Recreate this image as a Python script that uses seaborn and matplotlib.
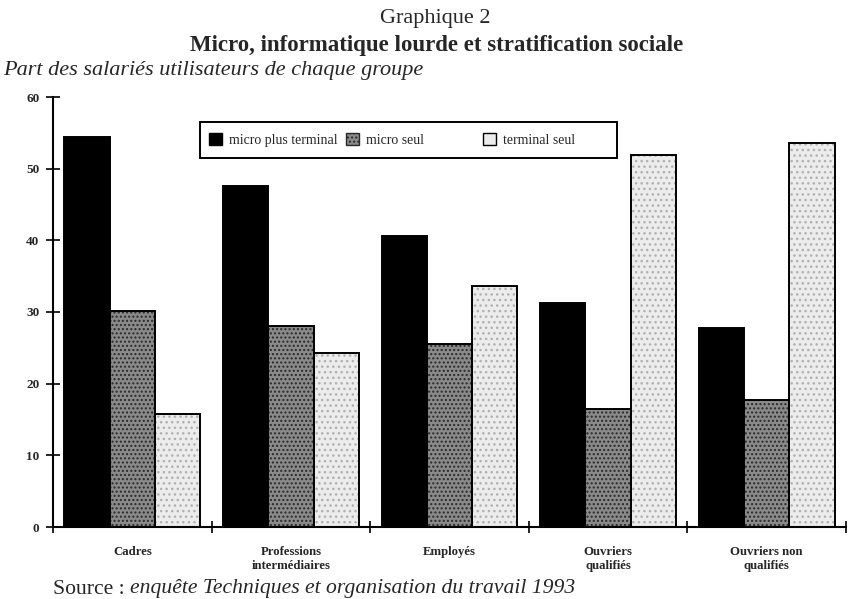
import matplotlib
matplotlib.use("Agg")
import matplotlib.pyplot as plt
import seaborn as sns
import pandas as pd
from matplotlib.patches import Rectangle, Patch

categories = ["Cadres", "Professions\nintermédiaires", "Employés", "Ouvriers\nqualifiés", "Ouvriers non\nqualifiés"]
series = ["micro plus terminal", "micro seul", "terminal seul"]
micro_plus_terminal = [54.4, 47.6, 40.6, 31.3, 27.8]
micro_seul = [30.1, 28.1, 25.6, 16.4, 17.7]
terminal_seul = [15.7, 24.3, 33.6, 51.9, 53.6]
y_ticks = [0, 10, 20, 30, 40, 50, 60]

rows = []
for s, vals in zip(series, [micro_plus_terminal, micro_seul, terminal_seul]):
    for c, v in zip(categories, vals):
        rows.append({"groupe": c, "type": s, "part": v})
df = pd.DataFrame(rows)

sns.set_style("white")
plt.rcParams["font.family"] = ["Liberation Serif", "DejaVu Serif"]
plt.rcParams["hatch.linewidth"] = 1.0

W, H = 848, 599
fig = plt.figure(figsize=(W/100, H/100), dpi=100)
ax_l, ax_r, ax_b, ax_t = 53, 846, 527, 97
ax = fig.add_axes([ax_l/W, 1-ax_b/H, (ax_r-ax_l)/W, (ax_b-ax_t)/H])

faces = {"micro plus terminal": "#000000", "micro seul": "#8a8a8a", "terminal seul": "#ececec"}
hatch_style = {"micro seul": ("....", "#2a2a2a"), "terminal seul": ("...", "#b0b0b0")}

sns.barplot(data=df, x="groupe", y="part", hue="type", hue_order=series,
            palette=faces, width=0.855, gap=0, ax=ax, legend=False,
            saturation=1, errorbar=None)

for container, s in zip(ax.containers, series):
    for bar in container:
        bar.set_linewidth(0)
        if s in hatch_style:
            h, hc = hatch_style[s]
            bar.set_hatch(h)
            bar.set_edgecolor(hc)
        outline = Rectangle(bar.get_xy(), bar.get_width(), bar.get_height(),
                            fill=False, edgecolor="black", linewidth=1.4, zorder=3)
        ax.add_patch(outline)

ax.set_xlim(-0.5, len(categories) - 0.5)
ax.set_ylim(0, 60)
ax.set_yticks(y_ticks)
ax.set_yticklabels([str(t) for t in y_ticks], fontsize=9.5, fontweight="bold")
ax.set_xticks(range(len(categories)))
ax.set_xticklabels(categories, fontsize=9.2, fontweight="bold", linespacing=1.15)
ax.set_xticks([i - 0.5 for i in range(len(categories) + 1)], minor=True)
ax.tick_params(axis="x", which="both", bottom=True)
ax.tick_params(axis="y", which="both", left=True)
ax.tick_params(axis="x", which="major", length=0, pad=14)
ax.tick_params(axis="x", which="minor", direction="inout", length=8.6, width=1.2, color="black")
ax.tick_params(axis="y", which="major", direction="inout", length=9.4, width=1.2, color="black", pad=5)
ax.set_xlabel("")
ax.set_ylabel("")
for side in ["top", "right"]:
    ax.spines[side].set_visible(False)
for side in ["left", "bottom"]:
    ax.spines[side].set_color("black")
    ax.spines[side].set_linewidth(1.5)

# legend: three equally spaced entries inside one framed box
handles = [Patch(facecolor=faces["micro plus terminal"], edgecolor="black"),
           Patch(facecolor=faces["micro seul"], edgecolor="#2a2a2a", hatch="...."),
           Patch(facecolor=faces["terminal seul"], edgecolor="black")]
entry_x = [209, 346, 483]
legend_y = 140
for i, (hnd, lab, ex) in enumerate(zip(handles, series, entry_x)):
    lg = ax.legend([hnd], [lab], loc="center left",
                   bbox_to_anchor=(ex/W, 1-legend_y/H), bbox_transform=fig.transFigure,
                   frameon=False, fontsize=10, borderpad=0, borderaxespad=0,
                   handlelength=0.95, handleheight=0.95, handletextpad=0.5)
    if i < len(series) - 1:
        ax.add_artist(lg)
fig.add_artist(Rectangle((200/W, 1-158/H), 417/W, 36/H, transform=fig.transFigure,
                         fill=False, edgecolor="black", linewidth=1.4))

fig.text(435/W, 1-19/H, "Graphique 2", ha="center", va="center", fontsize=16)
fig.text(437/W, 1-45/H, "Micro, informatique lourde et stratification sociale",
         ha="center", va="center", fontsize=16.5, fontweight="bold")
fig.text(3/W, 1-70/H, "Part des salariés utilisateurs de chaque groupe",
         ha="left", va="center", fontsize=16, style="italic")
t1 = fig.text(53/W, 1-589/H, "Source : ", ha="left", va="center", fontsize=15.6)
fig.canvas.draw()
bb = t1.get_window_extent()
fig.text(bb.x1/W, 1-589/H, "enquête Techniques et organisation du travail 1993",
         ha="left", va="center", fontsize=15.6, style="italic")

fig.savefig("out.png", dpi=100)
